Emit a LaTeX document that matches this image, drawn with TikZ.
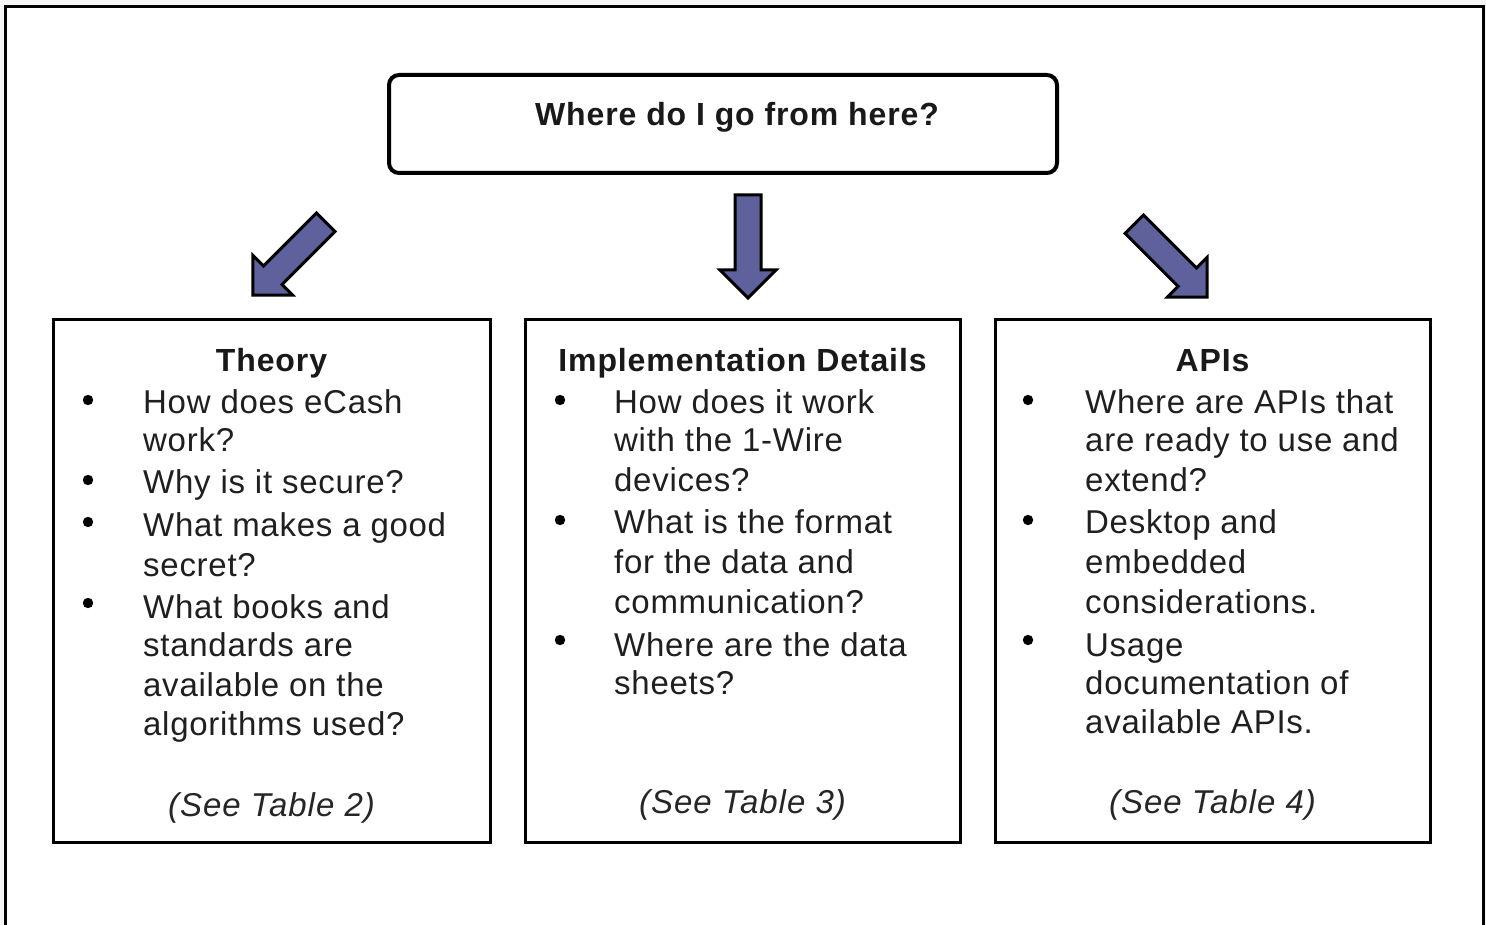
\documentclass[tikz,border=0pt]{standalone}
\usepackage{fontspec}
\setmainfont{Liberation Sans}
\begin{document}
\begin{tikzpicture}[x=1pt,y=-1pt,
  txt/.style={inner sep=0pt,anchor=base west,text=black!88,font=\fontsize{33}{40}\selectfont\addfontfeatures{LetterSpace=2.2}},
  ttl/.style={inner sep=0pt,anchor=base,text=black!90,font=\fontsize{32}{40}\selectfont\bfseries\addfontfeatures{LetterSpace=2.8}},
  see/.style={inner sep=0pt,anchor=base,text=black!85,font=\fontsize{33}{40}\selectfont\itshape\addfontfeatures{LetterSpace=3}},
  panel/.style={draw=black,line width=3pt},
  bul/.style={fill=black,draw=none},
  arr/.style={fill=arrowblue,draw=black,line width=3pt,line join=miter},
  blockarr/.pic={\draw[arr] (0,-13)--(75,-13)--(75,-28)--(103,0)--(75,28)--(75,13)--(0,13)--cycle;}]
\definecolor{arrowblue}{RGB}{94,97,156}
\useasboundingbox (0,0) rectangle (1486,925);
\clip (0,0) rectangle (1486,925);
\fill[black!4] (0,0) rectangle (1486,925);
\draw[fill=white,line width=3pt] (5,7) rectangle (1483,960);
% top box
\node[draw=black,line width=4pt,rounded corners=10pt,minimum width=668pt,minimum height=98pt,inner sep=0pt] (top) at (723,124) {};
\node[ttl] (toptxt) at (737,126) {Where do I go from here?};
% arrows
\pic (a1) [rotate=-135] at (325.8,222.2) {blockarr};
\pic (a2) [rotate=-90] at (748,195) {blockarr};
\pic (a3) [rotate=-45] at (1134.2,224.2) {blockarr};
% panels
\node[panel,minimum width=437pt,minimum height=522pt,inner sep=0pt] (p1) at (271.5,581) {};
\node[panel,minimum width=435pt,minimum height=522pt,inner sep=0pt] (p2) at (742.5,581) {};
\node[panel,minimum width=435pt,minimum height=522pt,inner sep=0pt] (p3) at (1212.5,581) {};
% Theory
\node[ttl] (t1) at (271.5,371) {Theory};
\fill[bul] (88,400) circle (5.2);
\fill[bul] (88,480) circle (5.2);
\fill[bul] (88,522) circle (5.2);
\fill[bul] (88,603) circle (5.2);
\node[txt] (l1) at (143,413) {How does eCash};
\node[txt] (l2) at (143,451) {work?};
\node[txt] (l3) at (143,493) {Why is it secure?};
\node[txt] (l4) at (143,536) {What makes a good};
\node[txt] (l5) at (143,576) {secret?};
\node[txt] (l6) at (143,618) {What books and};
\node[txt] (l7) at (143,656) {standards are};
\node[txt] (l8) at (143,696) {available on the};
\node[txt] (l9) at (143,735) {algorithms used?};
\node[see] (s1) at (271.5,816) {(See Table 2)};
% Implementation
\node[ttl] (t2) at (742.5,371) {Implementation Details};
\fill[bul] (560,400) circle (5.2);
\fill[bul] (560,520) circle (5.2);
\fill[bul] (560,640) circle (5.2);
\node[txt] (m1) at (614,413) {How does it work};
\node[txt] (m2) at (614,451) {with the 1-Wire};
\node[txt] (m3) at (614,491) {devices?};
\node[txt] (m4) at (614,533) {What is the format};
\node[txt] (m5) at (614,573) {for the data and};
\node[txt] (m6) at (614,613) {communication?};
\node[txt] (m7) at (614,656) {Where are the data};
\node[txt] (m8) at (614,694) {sheets?};
\node[see] (s2) at (742.5,813) {(See Table 3)};
% APIs
\node[ttl] (t3) at (1212.5,371) {APIs};
\fill[bul] (1028,400) circle (5.2);
\fill[bul] (1028,520) circle (5.2);
\fill[bul] (1028,640) circle (5.2);
\node[txt] (r1) at (1085,413) {Where are APIs that};
\node[txt] (r2) at (1085,451) {are ready to use and};
\node[txt] (r3) at (1085,491) {extend?};
\node[txt] (r4) at (1085,533) {Desktop and};
\node[txt] (r5) at (1085,573) {embedded};
\node[txt] (r6) at (1085,613) {considerations.};
\node[txt] (r7) at (1085,656) {Usage};
\node[txt] (r8) at (1085,694) {documentation of};
\node[txt] (r9) at (1085,733) {available APIs.};
\node[see] (s3) at (1212.5,813) {(See Table 4)};
\end{tikzpicture}
\end{document}
